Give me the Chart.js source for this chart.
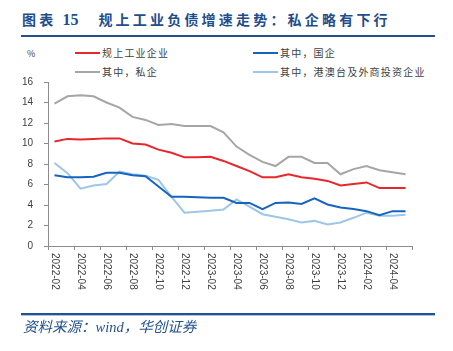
<!DOCTYPE html>
<html>
<head>
<meta charset="utf-8">
<script src="https://cdn.jsdelivr.net/npm/chart.js@4.4.1/dist/chart.umd.min.js"></script>
<style>
  body { margin: 0; width: 453px; height: 351px; position: relative; overflow: hidden; background: #fff; font-family: "Noto Sans CJK SC", sans-serif; }
  #chart { position: absolute; left: 0; top: 0; }
  .abs { position: absolute; white-space: nowrap; }
  #title { left: 22px; top: 11px; font-size: 14px; line-height: 16px; font-weight: bold; color: #1F4E8C; letter-spacing: 3.2px; }
  #title .num { font-family: "Liberation Serif", serif; font-size: 16px; letter-spacing: 0; margin: 0 20px 0 6px; }
  .rule { position: absolute; left: 21px; width: 414px; height: 2px; background: #24528F; }
  .leg { font-size: 10px; line-height: 12px; color: #404040; letter-spacing: 1.2px; }
  .sw { position: absolute; width: 25px; height: 2px; }
  #unit { left: 27px; top: 47px; font-size: 9px; color: #404040; }
  #source { left: 23px; top: 319px; font-size: 14.5px; line-height: 16px; font-style: italic; color: #24528F; font-family: "Liberation Serif", "Noto Sans CJK SC", serif; }
</style>
</head>
<body>
<div id="title" class="abs">图表<span class="num">15</span>规上工业负债增速走势：私企略有下行</div>
<div class="rule" style="top:35px"></div>
<div id="unit" class="abs">%</div>
<div class="sw" style="left:75px;top:52px;background:#E8262B"></div>
<div class="abs leg" style="left:102px;top:47px">规上工业企业</div>
<div class="sw" style="left:253px;top:52px;background:#1565C0"></div>
<div class="abs leg" style="left:280px;top:47px">其中，国企</div>
<div class="sw" style="left:75px;top:71px;background:#A6A6A6"></div>
<div class="abs leg" style="left:102px;top:66px">其中，私企</div>
<div class="sw" style="left:253px;top:71px;background:#9DC6E8"></div>
<div class="abs leg" style="left:280px;top:66px">其中，港澳台及外商投资企业</div>
<canvas id="chart" width="453" height="351"></canvas>
<div class="rule" style="top:313px"></div>
<div class="rule" style="top:315px;height:1px;background:#A9C4E8"></div>
<div id="source" class="abs">资料来源：wind，华创证券</div>
<script>
const months = [
  "2022-02", "2022-03", "2022-04", "2022-05", "2022-06", "2022-07", "2022-08",
  "2022-09", "2022-10", "2022-11", "2022-12", "2023-01", "2023-02", "2023-03",
  "2023-04", "2023-05", "2023-06", "2023-07", "2023-08", "2023-09", "2023-10",
  "2023-11", "2023-12", "2024-01", "2024-02", "2024-03", "2024-04", "2024-05"
];
const industrial = [10.2, 10.45, 10.4, 10.45, 10.5, 10.5, 10.0, 9.9, 9.4, 9.1, 8.65, 8.65, 8.7, 8.3,
  7.8, 7.3, 6.7, 6.7, 7.0, 6.7, 6.55, 6.35, 5.9, 6.05, 6.2, 5.65, 5.65, 5.65];
const stateOwned = [6.9, 6.7, 6.7, 6.75, 7.15, 7.15, 6.9, 6.8, 5.8, 4.8, 4.8, 4.75, 4.7, 4.7,
  4.2, 4.2, 3.6, 4.2, 4.25, 4.1, 4.65, 4.05, 3.75, 3.6, 3.4, 3.0, 3.4, 3.4];
const privateEnt = [13.9, 14.6, 14.7, 14.6, 14.0, 13.5, 12.6, 12.3, 11.8, 11.9, 11.7, 11.7, 11.7, 11.1,
  9.7, 8.9, 8.2, 7.8, 8.7, 8.7, 8.1, 8.1, 7.0, 7.5, 7.8, 7.4, 7.2, 7.0];
const foreignEnt = [8.1, 7.1, 5.6, 5.9, 6.05, 7.25, 7.0, 6.85, 6.45, 4.8, 3.25, 3.35, 3.45, 3.55,
  4.55, 3.85, 3.1, 2.85, 2.6, 2.3, 2.45, 2.1, 2.3, 2.75, 3.25, 2.95, 2.95, 3.05];

const axisColor = "#8C8C8C";
const textColor = "#404040";

// labels in the source read top-to-bottom, so draw them ourselves
const xLabels = {
  id: "xLabels",
  afterDraw(chart) {
    const sx = chart.scales.x;
    const ctx = chart.ctx;
    ctx.save();
    ctx.font = "10px 'Liberation Sans'";
    ctx.fillStyle = textColor;
    ctx.textAlign = "left";
    ctx.textBaseline = "middle";
    months.forEach((m, i) => {
      if (i % 2) return;
      ctx.save();
      ctx.translate(sx.getPixelForValue(i), sx.top + 7);
      ctx.rotate(Math.PI / 2);
      ctx.fillText(m, 0, 0);
      ctx.restore();
    });
    ctx.restore();
  },
};

const line = (data, color) => ({
  data,
  borderColor: color,
  borderWidth: 2,
  tension: 0,
  pointRadius: 0,
  fill: false,
});

new Chart(document.getElementById("chart"), {
  type: "line",
  data: {
    labels: months,
    datasets: [
      line(industrial, "#E8262B"),
      line(stateOwned, "#1565C0"),
      line(privateEnt, "#A6A6A6"),
      line(foreignEnt, "#9DC6E8"),
    ],
  },
  options: {
    responsive: false,
    devicePixelRatio: 1,
    animation: false,
    layout: { padding: { top: 82, right: 41, left: 0, bottom: 0 } },
    plugins: { legend: { display: false }, tooltip: { enabled: false } },
    scales: {
      x: {
        type: "category",
        offset: true,
        afterFit: (s) => { s.height = 105; },
        grid: {
          offset: true,
          drawOnChartArea: false,
          tickLength: 4,
          color: (c) => (c.index === undefined || c.index % 2 === 0 ? axisColor : "rgba(0,0,0,0)"),
        },
        border: { color: axisColor },
        ticks: { display: false },
      },
      y: {
        min: 0,
        max: 16,
        afterFit: (s) => { s.width = 48; },
        grid: { drawOnChartArea: false, tickLength: 4, color: axisColor },
        border: { color: axisColor },
        ticks: { stepSize: 2, padding: 11, color: textColor, font: { family: "'Liberation Sans'", size: 10 } },
      },
    },
  },
  plugins: [xLabels],
});
</script>
</body>
</html>
